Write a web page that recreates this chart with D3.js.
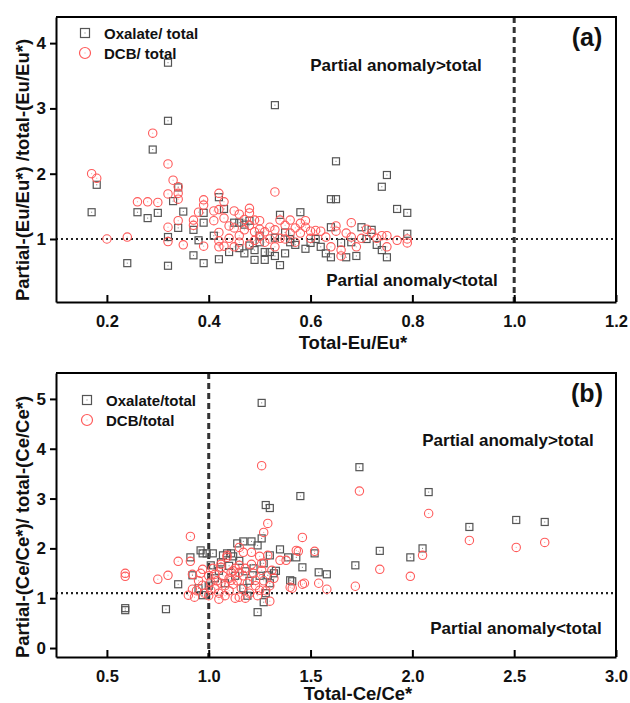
<!DOCTYPE html>
<html>
<head>
<meta charset="utf-8">
<script src="https://cdn.jsdelivr.net/npm/d3@7"></script>
<style>
  body { margin: 0; background: #fff; }
  svg text { font-family: Arial, "Liberation Sans", sans-serif; font-weight: bold; fill: #111; }
</style>
</head>
<body>
<div id="chart"></div>
<script>
// panel (a): Eu anomaly, [total Eu/Eu*, partial/total ratio]
let euOxalate = [
  [0.17,1.41],[0.18,1.83],[0.24,0.63],[0.26,1.41],[0.28,1.32],[0.29,2.37],[0.30,1.40],[0.32,3.70],
  [0.32,2.81],[0.32,1.03],[0.32,0.59],[0.33,1.58],[0.34,1.79],[0.34,1.17],[0.35,1.42],[0.37,1.14],
  [0.37,0.75],[0.38,0.98],[0.39,1.40],[0.39,1.25],[0.39,0.63],[0.41,1.05],[0.42,1.64],[0.42,0.69],
  [0.43,1.46],[0.44,0.80],[0.45,1.25],[0.46,1.25],[0.46,0.86],[0.47,0.78],[0.47,1.22],[0.48,1.28],
  [0.49,0.68],[0.49,0.83],[0.50,0.95],[0.51,0.68],[0.51,0.80],[0.52,0.80],[0.53,3.05],[0.53,0.74],
  [0.54,1.37],[0.54,0.60],[0.55,0.78],[0.56,0.95],[0.57,0.91],[0.58,1.41],[0.59,0.85],[0.60,0.94],
  [0.62,0.88],[0.63,0.78],[0.64,1.61],[0.64,1.18],[0.64,0.72],[0.65,2.19],[0.65,1.61],[0.66,0.94],
  [0.67,0.72],[0.69,0.74],[0.70,1.18],[0.72,1.14],[0.73,0.91],[0.74,1.80],[0.74,0.83],[0.75,1.98],
  [0.75,0.72],[0.77,1.46],[0.79,1.40],[0.79,1.08],[0.50,1.05],[0.53,1.02],[0.56,1.00],[0.48,0.90],
  [0.55,1.10],[0.61,1.00],[0.68,0.95],[0.71,1.00]
];
let euDcb = [
  [0.17,2.00],[0.18,1.93],[0.20,1.00],[0.24,1.03],[0.26,1.57],[0.28,1.57],[0.29,2.62],[0.30,1.56],
  [0.32,2.15],[0.32,1.69],[0.32,1.18],[0.32,0.96],[0.33,1.90],[0.34,1.80],[0.34,1.70],[0.34,1.61],
  [0.34,1.28],[0.35,0.91],[0.37,1.29],[0.37,1.21],[0.38,1.41],[0.39,1.60],[0.39,1.52],[0.39,0.89],
  [0.41,1.43],[0.41,1.28],[0.42,1.70],[0.42,1.45],[0.42,1.10],[0.42,0.97],[0.42,0.88],[0.43,1.57],
  [0.43,1.32],[0.43,0.89],[0.44,1.01],[0.45,1.43],[0.45,1.17],[0.45,0.88],[0.46,1.38],[0.46,1.05],
  [0.47,1.14],[0.48,1.47],[0.48,1.40],[0.48,1.21],[0.48,0.92],[0.49,1.29],[0.49,1.11],[0.50,1.28],
  [0.50,1.04],[0.51,1.11],[0.52,1.18],[0.52,1.00],[0.53,1.72],[0.53,1.14],[0.53,0.88],[0.54,1.29],
  [0.54,1.01],[0.55,1.21],[0.56,1.29],[0.56,1.09],[0.57,1.17],[0.58,1.24],[0.58,1.09],[0.59,1.28],
  [0.59,1.18],[0.60,1.12],[0.60,1.01],[0.61,1.13],[0.62,1.12],[0.63,1.03],[0.64,0.88],[0.65,1.20],
  [0.65,1.12],[0.66,0.83],[0.66,0.74],[0.67,1.09],[0.68,1.25],[0.68,1.03],[0.69,0.88],[0.70,1.01],
  [0.71,1.15],[0.72,1.09],[0.73,1.01],[0.74,1.05],[0.75,1.05],[0.75,0.88],[0.77,0.98],[0.79,1.00],
  [0.79,0.94],[0.44,1.20],[0.47,1.30],[0.50,1.15],[0.51,0.95],[0.55,1.00],[0.57,0.95],[0.46,0.95],
  [0.49,0.98]
];
// panel (b): Ce anomaly
let ceOxalate = [
  [0.59,0.80],[0.59,0.76],[0.79,0.78],[0.85,1.28],[0.91,1.82],[0.92,1.46],[0.96,1.96],[0.97,1.90],
  [0.97,1.06],[0.99,1.90],[1.01,1.66],[1.02,1.90],[1.07,1.86],[1.09,1.90],[1.11,1.90],[1.12,1.84],
  [1.14,2.10],[1.17,2.14],[1.18,1.54],[1.21,2.14],[1.24,2.06],[1.26,2.20],[1.24,0.72],[1.26,4.92],
  [1.27,0.92],[1.28,2.87],[1.30,2.81],[1.29,1.46],[1.30,1.86],[1.32,1.50],[1.35,1.98],[1.39,1.82],
  [1.40,1.36],[1.41,1.34],[1.43,1.82],[1.45,3.05],[1.46,1.62],[1.52,1.90],[1.54,1.52],[1.58,1.48],
  [1.72,1.66],[1.74,3.63],[1.84,1.95],[1.99,1.82],[2.05,2.00],[2.08,3.13],[2.28,2.43],[2.51,2.57],
  [2.65,2.53],[1.00,1.25],[1.03,1.40],[1.05,1.55],[1.08,1.30],[1.10,1.65],[1.13,1.45],[1.15,1.75],
  [1.17,1.20],[1.20,1.35],[1.22,1.60],[1.25,1.45],[1.28,1.10],[1.30,1.30],[0.95,1.20],[1.06,1.72],
  [1.19,1.05],[1.33,1.55],[1.27,1.70]
];
let ceDcb = [
  [0.59,1.50],[0.59,1.44],[0.75,1.38],[0.80,1.46],[0.85,1.74],[0.90,1.06],[0.91,2.24],[0.91,1.74],
  [0.92,1.48],[0.92,1.18],[0.93,1.02],[0.96,1.50],[0.97,1.58],[0.97,1.26],[1.01,1.32],[1.01,1.16],
  [1.03,1.48],[1.05,0.98],[1.06,1.68],[1.06,1.62],[1.09,1.86],[1.09,1.82],[1.11,1.36],[1.11,1.52],
  [1.13,1.00],[1.15,2.02],[1.15,1.66],[1.15,1.52],[1.15,1.02],[1.17,1.92],[1.18,1.00],[1.21,1.92],
  [1.23,1.36],[1.25,1.16],[1.25,1.84],[1.26,1.56],[1.26,1.70],[1.26,3.66],[1.27,2.32],[1.29,2.50],
  [1.29,1.86],[1.30,0.94],[1.31,1.56],[1.35,1.76],[1.38,1.76],[1.40,1.22],[1.41,1.20],[1.43,1.96],
  [1.44,1.94],[1.46,2.22],[1.46,1.28],[1.47,1.30],[1.52,1.94],[1.54,1.30],[1.58,1.18],[1.72,1.24],
  [1.74,3.15],[1.84,1.58],[1.99,1.44],[2.05,1.86],[2.08,2.70],[2.28,2.16],[2.51,2.02],[2.65,2.12],
  [0.95,1.35],[0.98,1.10],[1.00,1.45],[1.02,1.60],[1.03,1.20],[1.04,1.35],[1.05,1.10],[1.07,1.45],
  [1.08,1.25],[1.08,1.05],[1.10,1.40],[1.10,1.15],[1.12,1.28],[1.13,1.60],[1.14,1.35],[1.16,1.20],
  [1.17,1.45],[1.19,1.30],[1.20,1.10],[1.22,1.50],[1.23,1.25],[1.24,1.05],[1.27,1.35],[1.28,1.15],
  [1.30,1.25],[1.32,1.40],[1.00,1.05],[0.94,1.15],[1.06,1.30],[1.12,1.55],[1.18,1.60],[1.21,1.68]
];

let euXTicks = [0.2, 0.4, 0.6, 0.8, 1.0, 1.2];
let euYTicks = [1, 2, 3, 4];
let ceXTicks = [0.5, 1.0, 1.5, 2.0, 2.5, 3.0];
let ceYTicks = [0, 1, 2, 3, 4, 5];

let totalWidth = 630;
let totalHeight = 703;

var svg = d3.select("#chart").append("svg")
    .attr("width", totalWidth)
    .attr("height", totalHeight);

let squareColor = "#555";
let circleColor = "#ff5a5a";

function drawPanel(opt) {
    let x = d3.scaleLinear().domain(opt.xDomain).range([56, 616]);
    let y = d3.scaleLinear().domain(opt.yDomain).range([opt.bottom, opt.top]);
    let g = svg.append("g");

    // reference lines
    g.append("line")
        .attr("x1", x.range()[0]).attr("x2", x.range()[1])
        .attr("y1", y(opt.hLine)).attr("y2", y(opt.hLine))
        .attr("stroke", "#222").attr("stroke-width", 2.2)
        .attr("stroke-dasharray", "2,3");
    g.append("line")
        .attr("x1", x(1)).attr("x2", x(1))
        .attr("y1", opt.top).attr("y2", opt.bottom)
        .attr("stroke", "#333").attr("stroke-width", 3)
        .attr("stroke-dasharray", "6,4");

    // oxalate squares
    let sq = g.selectAll(".sq").data(opt.oxalate).enter().append("g")
        .attr("transform", d => "translate(" + x(d[0]) + "," + y(d[1]) + ")");
    sq.append("rect")
        .attr("x", -3.5).attr("y", -3.5).attr("width", 7).attr("height", 7)
        .attr("fill", "none").attr("stroke", squareColor).attr("stroke-width", 1.2);
    sq.append("rect")
        .attr("x", -0.5).attr("y", -0.5).attr("width", 1).attr("height", 1)
        .attr("fill", "#777");

    // DCB circles
    let ci = g.selectAll(".ci").data(opt.dcb).enter().append("g")
        .attr("transform", d => "translate(" + x(d[0]) + "," + y(d[1]) + ")");
    ci.append("circle")
        .attr("r", 4.2)
        .attr("fill", "none").attr("stroke", circleColor).attr("stroke-width", 1.1);
    ci.append("rect")
        .attr("x", -0.5).attr("y", -0.5).attr("width", 1).attr("height", 1)
        .attr("fill", "#f99");

    // frame (top and right)
    g.append("path")
        .attr("d", "M56," + opt.top + "H616V" + opt.bottom)
        .attr("fill", "none").attr("stroke", "#000").attr("stroke-width", 2);

    // x axis, ticks pointing in
    let xAxis = g.append("g")
        .attr("transform", "translate(0," + opt.bottom + ")")
        .call(d3.axisBottom(x).tickValues(opt.xTicks).tickFormat(d3.format(".1f"))
            .tickSizeInner(-7).tickSizeOuter(0).tickPadding(13));
    xAxis.select(".domain").attr("stroke-width", 2);
    xAxis.selectAll(".tick line").attr("stroke-width", 2);
    xAxis.selectAll("text").style("font-size", "16.5px").style("fill", "#111");

    // y axis, ticks pointing out
    let yAxis = g.append("g")
        .attr("transform", "translate(56,0)")
        .call(d3.axisLeft(y).tickValues(opt.yTicks).tickFormat(d3.format("d"))
            .tickSizeInner(6).tickSizeOuter(0).tickPadding(4));
    yAxis.select(".domain").attr("stroke-width", 2);
    yAxis.selectAll(".tick line").attr("stroke-width", 2);
    yAxis.selectAll("text").style("font-size", "17px").style("fill", "#111");

    // axis titles
    g.append("text")
        .attr("x", opt.xTitleX).attr("y", opt.xTitleY)
        .attr("text-anchor", "middle")
        .style("font-size", "18.5px")
        .text(opt.xTitle);
    g.append("text")
        .attr("transform", "translate(" + 29 + "," + opt.yTitleY + ") rotate(-90)")
        .attr("text-anchor", "middle")
        .style("font-size", "18.5px")
        .text(opt.yTitle);

    // panel label and annotations
    g.append("text")
        .attr("x", 587).attr("y", opt.top + 29)
        .attr("text-anchor", "middle")
        .style("font-size", "25px")
        .text(opt.label);
    g.append("text")
        .attr("x", opt.aboveX).attr("y", opt.aboveY)
        .attr("text-anchor", "middle")
        .style("font-size", "17px")
        .text("Partial anomaly>total");
    g.append("text")
        .attr("x", opt.belowX).attr("y", opt.belowY)
        .attr("text-anchor", "middle")
        .style("font-size", "17px")
        .text("Partial anomaly<total");

    // legend
    let lg = g.append("g").attr("transform", "translate(0," + opt.legendY + ")");
    lg.append("rect")
        .attr("x", opt.legendX - 4.5).attr("y", -4.5).attr("width", 9).attr("height", 9)
        .attr("fill", "none").attr("stroke", squareColor).attr("stroke-width", 1.2);
    lg.append("rect")
        .attr("x", opt.legendX - 0.5).attr("y", -0.5).attr("width", 1).attr("height", 1)
        .attr("fill", "#777");
    lg.append("text")
        .attr("x", opt.legendX + 19).attr("y", 5.5)
        .style("font-size", "15px")
        .text(opt.legendNames[0]);
    lg.append("circle")
        .attr("cx", opt.legendX).attr("cy", 20).attr("r", 5.5)
        .attr("fill", "none").attr("stroke", circleColor).attr("stroke-width", 1.2);
    lg.append("rect")
        .attr("x", opt.legendX - 0.5).attr("y", 19.5).attr("width", 1).attr("height", 1)
        .attr("fill", "#f99");
    lg.append("text")
        .attr("x", opt.legendX + 19).attr("y", 25.5)
        .style("font-size", "15px")
        .text(opt.legendNames[1]);
}

drawPanel({
    top: 17, bottom: 302,
    xDomain: [0.1, 1.2], yDomain: [0.035, 4.4],
    xTicks: euXTicks, yTicks: euYTicks, hLine: 1,
    oxalate: euOxalate, dcb: euDcb,
    xTitle: "Total-Eu/Eu*", xTitleX: 353, xTitleY: 349,
    yTitle: "Partial-(Eu/Eu*) /total-(Eu/Eu*)", yTitleY: 170,
    label: "(a)",
    aboveX: 396, aboveY: 71, belowX: 412, belowY: 286,
    legendX: 85, legendY: 33,
    legendNames: ["Oxalate/ total", "DCB/ total"]
});

drawPanel({
    top: 373, bottom: 657,
    xDomain: [0.25, 3.0], yDomain: [-0.18, 5.52],
    xTicks: ceXTicks, yTicks: ceYTicks, hLine: 1.1,
    oxalate: ceOxalate, dcb: ceDcb,
    xTitle: "Total-Ce/Ce*", xTitleX: 358, xTitleY: 700,
    yTitle: "Partial-(Ce/Ce*)/ total-(Ce/Ce*)", yTitleY: 527,
    label: "(b)",
    aboveX: 508, aboveY: 446, belowX: 516, belowY: 634,
    legendX: 87, legendY: 400,
    legendNames: ["Oxalate/total", "DCB/total"]
});
</script>
</body>
</html>
